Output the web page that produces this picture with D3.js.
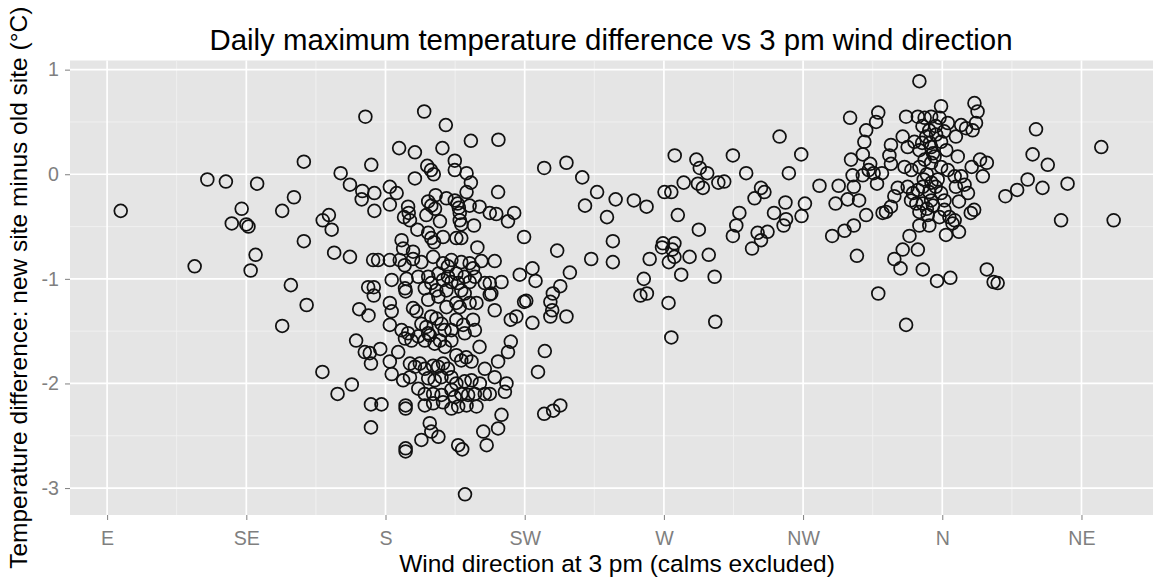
<!DOCTYPE html>
<html>
<head>
<meta charset="utf-8">
<script src="https://cdn.jsdelivr.net/npm/d3@7/dist/d3.min.js"></script>
<style>
  html, body { margin: 0; padding: 0; background: #ffffff; }
  svg { display: block; font-family: "Liberation Sans", Arial, "DejaVu Sans", sans-serif; }
</style>
</head>
<body>
<svg id="chart" width="1153" height="581"></svg>
<script>
// Compass directions (degrees, E = 90 … NE = 405 so the scale runs E→S→W→N→NE)
const dirTicks = [90, 135, 180, 225, 270, 315, 360, 405];
const dirLabels = ["E", "SE", "S", "SW", "W", "NW", "N", "NE"];
const diffTicks = [1, 0, -1, -2, -3];
const diffLabels = ["1", "0", "-1", "-2", "-3"];

// Observations: [wind direction at 3 pm (deg), new site minus old site (°C)]
const obsEastSE = [
  [94.4,-0.35],[122.4,-0.05],[128.4,-0.07],[138.5,-0.09],[133.5,-0.33],[130.3,-0.47],
  [135.0,-0.48],[135.7,-0.50],[138.0,-0.77],[118.3,-0.88],[136.4,-0.92]
];
const obsSESouth = [
  [173.5,0.55],[153.6,0.12],[175.4,0.09],[165.5,0.01],[168.5,-0.10],[172.5,-0.16],[176.4,-0.18],
  [172.3,-0.24],[181.4,-0.12],[181.4,-0.29],[150.4,-0.22],[146.6,-0.35],[176.4,-0.35],[161.7,-0.39],
  [159.7,-0.44],[162.6,-0.53],[153.6,-0.64],[163.4,-0.75],[168.5,-0.79],[176.0,-0.82],[177.6,-0.82],
  [181.4,-0.82],[182.0,-1.01],[149.4,-1.06],[174.4,-1.08],[176.2,-1.08],[176.2,-1.16],
  [154.5,-1.25],[146.6,-1.45],[171.5,-1.29],[174.5,-1.35],[181.4,-1.23],[182.0,-1.31],[181.4,-1.44],
  [170.5,-1.59],[173.3,-1.70],[174.9,-1.71],[178.3,-1.67],[175.3,-1.81],[181.4,-1.79],[182.0,-1.91],
  [159.6,-1.89],[169.1,-2.01],[164.5,-2.10],[175.3,-2.20],[178.7,-2.20],[175.3,-2.42]
];
const obsSouthUpper = [
  [192.5,0.60],[199.5,0.47],[207.6,0.32],[216.5,0.33],[184.4,0.25],[189.5,0.21],[198.4,0.25],
  [202.4,0.13],[193.5,0.08],[194.7,0.04],[195.6,0.00],[202.4,0.04],[206.2,0.01],[207.6,-0.08],
  [189.5,-0.04],[183.6,-0.18],[216.4,-0.17],[206.2,-0.17],[196.2,-0.20],[199.7,-0.23],[202.4,-0.25],
  [203.3,-0.28],[203.7,-0.32],[204.0,-0.37],[193.8,-0.26],[194.8,-0.30],[196.0,-0.33],[207.2,-0.30],
  [210.4,-0.31],[213.7,-0.37],[215.8,-0.38],[221.6,-0.37],[219.6,-0.45],[187.3,-0.31],[187.5,-0.37],
  [186.0,-0.41],[187.9,-0.44],[193.2,-0.39],[197.6,-0.45],[204.0,-0.44],[204.5,-0.48],[208.6,-0.49],
  [190.3,-0.53],[193.8,-0.56],[194.8,-0.61],[195.7,-0.65],[198.6,-0.60],[202.9,-0.61],[204.5,-0.61],
  [209.7,-0.70],[224.8,-0.60],[185.2,-0.63],[185.7,-0.71],[184.6,-0.82],[186.2,-0.87],[188.9,-0.74],
  [188.9,-0.81],[191.6,-0.84],[195.4,-0.79],[198.6,-0.85],[200.2,-0.88],[201.3,-0.82],[204.5,-0.84],
  [207.2,-0.85],[208.3,-0.90],[211.0,-0.83],[215.3,-0.83],[186.8,-1.00],[190.6,-0.98],[193.8,-0.98],
  [194.8,-1.04],[197.1,-0.95],[198.6,-1.01],[200.2,-0.98],[201.3,-1.03],[202.9,-0.95],[203.5,-1.04],
  [205.6,-0.98],[207.2,-1.03],[208.9,-0.98],[212.1,-1.04],[213.7,-1.04],[217.5,-1.03],[223.4,-0.96],
  [186.3,-1.09],[192.7,-1.09],[196.4,-1.11],[199.7,-1.11],[204.5,-1.11]
];
const obsSouthLower = [
  [186.5,-1.12],[188.9,-1.28],[190.0,-1.31],[199.7,-1.27],[202.9,-1.23],[204.0,-1.27],[207.2,-1.23],
  [209.4,-1.23],[213.7,-1.15],[215.3,-1.30],[220.5,-1.39],[222.3,-1.36],[224.8,-1.22],[185.2,-1.49],
  [187.3,-1.52],[191.6,-1.43],[193.2,-1.46],[194.8,-1.36],[196.5,-1.38],[198.1,-1.43],[199.1,-1.49],
  [202.9,-1.39],[205.1,-1.44],[208.3,-1.39],[208.9,-1.49],[210.4,-1.65],[220.5,-1.60],[219.6,-1.70],
  [216.4,-1.79],[184.1,-1.70],[186.3,-1.57],[188.4,-1.59],[190.6,-1.55],[192.7,-1.59],[194.3,-1.54],
  [195.9,-1.62],[197.6,-1.59],[199.2,-1.65],[201.3,-1.59],[202.9,-1.73],[204.5,-1.78],[206.1,-1.75],
  [207.8,-1.79],[187.9,-1.81],[189.5,-1.84],[191.1,-1.81],[192.7,-1.86],[195.4,-1.83],[197.0,-1.84],
  [198.6,-1.81],[200.2,-1.86],[212.1,-1.86],[215.3,-1.94],[185.7,-1.97],[187.9,-1.94],[193.8,-1.95],
  [195.9,-1.97],[198.1,-1.94],[201.3,-1.94],[202.9,-2.00],[205.6,-1.98],[207.8,-1.97],[210.5,-2.00],
  [190.6,-2.05],[192.7,-2.10],[195.4,-2.10],[198.1,-2.11],[201.3,-2.06],[202.4,-2.13],[204.5,-2.10],
  [206.7,-2.11],[208.9,-2.10],[212.1,-2.10],[213.7,-2.10],[219.1,-2.00],[218.6,-2.08],[186.5,-2.21],
  [186.5,-2.24],[192.7,-2.21],[195.4,-2.19],[198.6,-2.18],[201.3,-2.24],[203.5,-2.22],[206.2,-2.21],
  [209.4,-2.22],[217.5,-2.30],[216.4,-2.43],[211.6,-2.46],[212.7,-2.59],[194.3,-2.38],[194.8,-2.46],
  [197.1,-2.51],[191.6,-2.54],[186.5,-2.62],[186.5,-2.65],[203.5,-2.59],[204.8,-2.63],[205.7,-3.06],
  [193.8,-1.20],[197.1,-1.17],[205.6,-1.14],[214.2,-1.14],[201.3,-1.49],[205.6,-1.52],[193.8,-1.52]
];
const obsSWWest = [
  [273.5,0.18],[280.5,0.14],[281.6,0.06],[231.3,0.06],[238.5,0.11],[243.6,-0.03],[248.4,-0.17],
  [244.5,-0.30],[254.4,-0.24],[260.3,-0.25],[264.4,-0.31],[251.6,-0.41],[270.2,-0.17],[272.4,-0.17],
  [276.4,-0.08],[281.0,-0.09],[282.6,-0.13],[274.5,-0.39],[281.3,-0.53],[253.5,-0.64],[235.5,-0.73],
  [246.5,-0.81],[253.5,-0.84],[265.4,-0.81],[269.7,-0.66],[269.4,-0.70],[273.4,-0.66],[272.7,-0.72],
  [271.6,-0.84],[273.4,-0.79],[278.3,-0.79],[275.6,-0.96],[227.5,-0.90],[228.5,-1.02],[225.5,-1.21],
  [227.5,-1.42],[239.6,-0.94],[236.5,-1.07],[234.1,-1.14],[233.3,-1.22],[233.9,-1.30],[233.3,-1.36],
  [238.5,-1.36],[263.5,-1.00],[262.4,-1.16],[264.5,-1.14],[271.5,-1.23],[272.4,-1.56],[231.5,-1.69],
  [229.3,-1.89],[231.3,-2.29],[234.2,-2.26],[236.5,-2.21]
];
const obsWestNW = [
  [330.2,0.54],[335.4,0.42],[334.8,0.31],[334.3,0.19],[330.5,0.14],[331.0,-0.01],[334.3,-0.01],
  [331.4,-0.12],[333.1,-0.25],[331.4,-0.49],[335.4,-0.39],[307.4,0.36],[314.4,0.19],[292.3,0.18],
  [296.6,0.01],[310.4,0.01],[320.3,-0.11],[326.5,-0.11],[325.5,-0.28],[329.4,-0.24],[324.4,-0.59],
  [328.4,-0.54],[332.4,-0.78],[301.4,-0.13],[302.5,-0.17],[299.3,-0.23],[305.6,-0.37],[309.3,-0.27],
  [309.5,-0.43],[308.7,-0.49],[314.5,-0.40],[315.6,-0.28],[294.4,-0.37],[293.4,-0.49],[292.3,-0.59],
  [300.3,-0.56],[301.4,-0.63],[303.5,-0.55],[298.5,-0.71],[284.0,0.01],[287.6,-0.08],[289.5,-0.07],
  [284.5,-0.77],[286.4,-0.98],[286.6,-1.41]
];
const obsNorth = [
  [352.6,0.89],[359.6,0.65],[370.4,0.68],[371.4,0.60],[370.9,0.49],[369.8,0.42],[366.1,0.47],
  [367.7,0.44],[339.3,0.59],[338.6,0.50],[348.3,0.55],[352.1,0.55],[354.3,0.54],[356.4,0.55],
  [359.1,0.54],[361.8,0.49],[353.6,0.46],[355.8,0.42],[357.9,0.46],[360.6,0.41],[364.4,0.36],
  [347.2,0.36],[343.4,0.28],[342.9,0.18],[343.4,0.10],[348.8,0.26],[351.0,0.31],[352.6,0.23],
  [354.8,0.36],[356.4,0.26],[359.6,0.31],[361.3,0.23],[365.0,0.17],[372.2,0.14],[374.4,0.11],
  [369.5,0.07],[373.1,-0.02],[336.7,0.10],[336.2,0.04],[337.8,0.01],[338.9,-0.09],[340.5,0.01],
  [347.8,0.07],[350.0,0.04],[352.6,0.07],[354.3,0.14],[356.4,0.11],[357.5,0.17],[359.6,0.07],
  [361.8,0.04],[364.0,-0.02],[366.1,-0.02],[367.2,-0.10],[368.3,-0.18],[364.4,-0.12],[365.4,-0.26],
  [369.2,-0.37],[370.3,-0.34],[345.6,-0.13],[344.5,-0.21],[343.4,-0.31],[341.8,-0.36],[340.7,-0.37],
  [348.8,-0.12],[350.5,-0.18],[352.1,-0.15],[353.7,-0.12],[355.8,-0.17],[357.9,-0.12],[359.6,-0.18],
  [360.7,-0.25],[356.4,-0.25],[353.7,-0.28],[351.6,-0.28],[349.9,-0.25],[352.6,-0.36],[355.3,-0.39],
  [360.7,-0.34],[362.3,-0.41],[364.0,-0.44],[359.1,-0.41],[352.6,-0.49],[355.8,-0.49],[363.3,-0.47],
  [365.4,-0.55],[361.2,-0.58],[349.4,-0.59],[347.2,-0.72],[352.1,-0.72],[344.5,-0.81],[346.5,-0.90],
  [353.7,-0.91],[358.3,-1.02],[362.6,-0.99],[374.4,-0.91],[376.6,-1.03],[377.9,-1.04],[339.3,-1.14],
  [348.3,-1.44],
  [356.0,0.30],[357.0,0.20],[355.0,0.00],[358.5,-0.05],[356.5,-0.08],[354.0,-0.05],[357.0,-0.30],
  [355.0,-0.33],[358.0,0.38],[353.5,0.30]
];
const obsNE = [
  [390.3,0.43],[389.2,0.19],[394.1,0.09],[387.6,-0.05],[384.2,-0.15],[380.4,-0.21],[392.4,-0.13],
  [400.5,-0.09],[398.4,-0.44],[411.4,0.26],[415.4,-0.44]
];

const observations = [].concat(obsEastSE, obsSESouth, obsSouthUpper, obsSouthLower,
                               obsSWWest, obsWestNW, obsNorth, obsNE);

// Layout
const W = 1153, H = 581;
const panelLeft = 70, panelRight = 1165, panelTop = 60.5, panelBottom = 515;

const x = d3.scaleLinear().domain([78, 432]).range([panelLeft, panelRight]);
const y = d3.scaleLinear().domain([-3.2575, 1.0875]).range([panelBottom, panelTop]);

const svg = d3.select("#chart");

// Panel background
svg.append("rect")
  .attr("x", panelLeft).attr("y", panelTop)
  .attr("width", panelRight - panelLeft).attr("height", panelBottom - panelTop)
  .attr("fill", "#e5e5e5");

const grid = svg.append("g");

// Minor grid lines halfway between the major breaks
const xMinor = d3.range(1, dirTicks.length).map(i => (dirTicks[i - 1] + dirTicks[i]) / 2);
const yMinor = [0.5, -0.5, -1.5, -2.5];

grid.selectAll("line.xminor").data(xMinor).join("line")
  .attr("x1", d => x(d)).attr("x2", d => x(d))
  .attr("y1", panelTop).attr("y2", panelBottom)
  .attr("stroke", "#f2f2f2").attr("stroke-width", 0.9);
grid.selectAll("line.yminor").data(yMinor).join("line")
  .attr("x1", panelLeft).attr("x2", panelRight)
  .attr("y1", d => y(d)).attr("y2", d => y(d))
  .attr("stroke", "#f2f2f2").attr("stroke-width", 0.9);

// Major grid lines
grid.selectAll("line.xmajor").data(dirTicks).join("line")
  .attr("x1", d => x(d)).attr("x2", d => x(d))
  .attr("y1", panelTop).attr("y2", panelBottom)
  .attr("stroke", "#ffffff").attr("stroke-width", 1.7);
grid.selectAll("line.ymajor").data(diffTicks).join("line")
  .attr("x1", panelLeft).attr("x2", panelRight)
  .attr("y1", d => y(d)).attr("y2", d => y(d))
  .attr("stroke", "#ffffff").attr("stroke-width", 1.7);

// Points: open circles
svg.append("g").selectAll("circle").data(observations).join("circle")
  .attr("cx", d => x(d[0]))
  .attr("cy", d => y(d[1]))
  .attr("r", 6.4)
  .attr("fill", "none")
  .attr("stroke", "#111111")
  .attr("stroke-width", 1.75);

// Axes
const tickGrey = "#7f7f7f";
const xAxis = svg.append("g")
  .attr("transform", `translate(0,${panelBottom})`)
  .call(d3.axisBottom(x).tickValues(dirTicks)
    .tickFormat((d, i) => dirLabels[i]).tickSize(5).tickPadding(11));
const yAxis = svg.append("g")
  .attr("transform", `translate(${panelLeft},0)`)
  .call(d3.axisLeft(y).tickValues(diffTicks)
    .tickFormat((d, i) => diffLabels[i]).tickSize(5).tickPadding(6));

[xAxis, yAxis].forEach(g => {
  g.select(".domain").remove();
  g.selectAll(".tick line").attr("stroke", tickGrey).attr("stroke-width", 1);
  g.selectAll(".tick text")
    .attr("fill", tickGrey)
    .style("font-size", "19.6px")
    .style("font-family", "'Liberation Sans', Arial, sans-serif");
});

// Titles
svg.append("text")
  .attr("x", 611).attr("y", 50)
  .attr("text-anchor", "middle")
  .style("font-size", "29.4px")
  .attr("fill", "#000")
  .text("Daily maximum temperature difference vs 3 pm wind direction");

svg.append("text")
  .attr("x", 617).attr("y", 572)
  .attr("text-anchor", "middle")
  .style("font-size", "24.5px")
  .attr("fill", "#000")
  .text("Wind direction at 3 pm (calms excluded)");

svg.append("text")
  .attr("transform", `translate(27,${(panelTop + panelBottom) / 2}) rotate(-90)`)
  .attr("text-anchor", "middle")
  .style("font-size", "24.5px")
  .attr("fill", "#000")
  .text("Temperature difference: new site minus old site (°C)");
</script>
</body>
</html>
